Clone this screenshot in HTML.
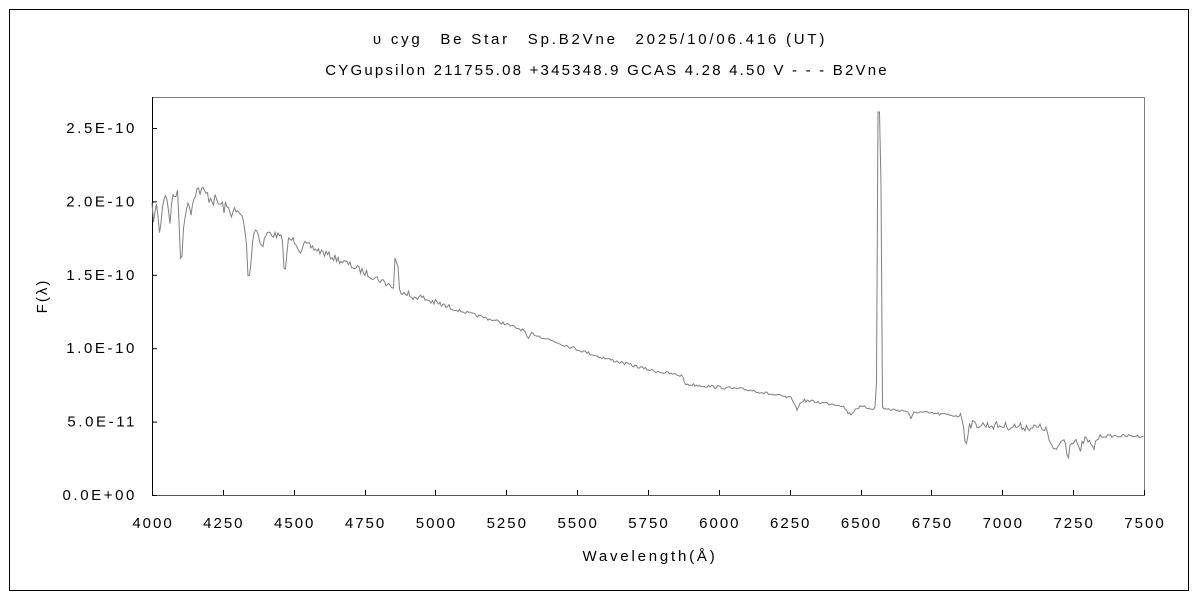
<!DOCTYPE html>
<html><head><meta charset="utf-8"><style>
html,body{margin:0;padding:0;background:#fff;}
svg text{font-family:"Liberation Sans","Noto Sans CJK JP",sans-serif;fill:#000;}
</style></head><body>
<svg id="s" width="1200" height="600" xmlns="http://www.w3.org/2000/svg">
<rect x="9.5" y="9.5" width="1179" height="581" fill="#fff" stroke="#000" stroke-width="1"/>
<text x="600" y="44" font-size="15" letter-spacing="2.8" text-anchor="middle">υ cyg　Be Star　Sp.B2Vne　2025/10/06.416 (UT)</text>
<text x="607" y="75" font-size="15" letter-spacing="2.2" text-anchor="middle">CYGupsilon 211755.08 +345348.9 GCAS 4.28 4.50 V - - - B2Vne</text>
<line x1="152" y1="97.5" x2="1144" y2="97.5" stroke="#808080"/>
<line x1="1144.5" y1="97" x2="1144.5" y2="495" stroke="#808080"/>
<line x1="152" y1="495.5" x2="1145" y2="495.5" stroke="#555"/>
<line x1="152.5" y1="97" x2="152.5" y2="496" stroke="#000"/>
<g id="yt" font-size="15" letter-spacing="2.6" text-anchor="end"></g>
<g id="xt" font-size="15" letter-spacing="2" text-anchor="middle"></g>
<text x="47" y="296" font-size="15" letter-spacing="2" text-anchor="middle" transform="rotate(-90 47 296)">F(λ)</text>
<text x="650" y="561" font-size="15" letter-spacing="2.8" text-anchor="middle">Wavelength(Å)</text>
<path id="sp" fill="none" stroke="#808080" stroke-width="1"/>
</svg>
<script>
var ns="http://www.w3.org/2000/svg",s=document.getElementById('s');
var yt=document.getElementById('yt'),xt=document.getElementById('xt');
var yl=["0.0E+00","5.0E-11","1.0E-10","1.5E-10","2.0E-10","2.5E-10"];
for(var i=0;i<6;i++){var y=495-i*73.4;
 var t=document.createElementNS(ns,'text');t.setAttribute('x',137);t.setAttribute('y',y+5);t.textContent=yl[i];yt.appendChild(t);
 var l=document.createElementNS(ns,'line');l.setAttribute('x1',152);l.setAttribute('x2',157);l.setAttribute('y1',y+.5);l.setAttribute('y2',y+.5);l.setAttribute('stroke','#000');s.appendChild(l);}
for(var i=0;i<=14;i++){var x=152+i*70.857;
 var t=document.createElementNS(ns,'text');t.setAttribute('x',x+1);t.setAttribute('y',528);t.textContent=4000+250*i;xt.appendChild(t);
 var l=document.createElementNS(ns,'line');l.setAttribute('x1',Math.round(x)+.5);l.setAttribute('x2',Math.round(x)+.5);l.setAttribute('y1',490);l.setAttribute('y2',495);l.setAttribute('stroke','#000');s.appendChild(l);}
var base=[[152,197],[165,195],[200,190],[225,208],[240,215],[250,228],[300,242],[350,265],[400,290],[450,308],[500,322],[550,340],[600,357],[650,370],[683,376],[684,384],[750,390],[800,400],[850,406],[870,408],[885,409],[960,416],[966,424],[1045,428],[1050,440],[1090,440],[1100,436],[1144,436]];
function b(x){for(var i=1;i<base.length;i++)if(x<=base[i][0]){var a=base[i-1],c=base[i];return a[1]+(c[1]-a[1])*(x-a[0])/(c[0]-a[0]);}return 436;}
var dips=[[154,20,3],[160,38,2],[170,25,2],[181,70,2],[185,30,2],[191,22,2],[249,50,3],[262,15,3],[285,35,2],[300,8,3],[396,12,2],[412,6,2],[528,8,2],[797,10,3],[850,8,5],[911,8,2],[966,20,2],[1055,12,4],[1068,15,2],[1080,14,2],[1093,10,3]];
var seed=7;function r(){seed=(seed*16807)%2147483647;return seed/2147483647;}
var d="";
for(var x=152;x<=1144;x+=1.5){
 var y=b(x);
 var amp=x<250?7:(x<450?3.5:(x<960?1.5:(x<1100?4:1.5)));
 y+= (r()-0.5)*amp*2;
 for(var k=0;k<dips.length;k++){var q=dips[k];var dd=(x-q[0])/q[2];y+=q[1]*Math.exp(-dd*dd);}
 if(x>=395&&x<=398)y=258+(x-395)*3;
 if(x>=872&&x<=886){var dd=(x-879)/1.6;y-=296*Math.exp(-dd*dd);}
 if(x>=878&&x<=881)y=Math.min(y,x<880?112:185);
 d+=(d?"L":"M")+x.toFixed(1)+" "+y.toFixed(1);
}
document.getElementById('sp').setAttribute('d',d);
</script>
</body></html>
